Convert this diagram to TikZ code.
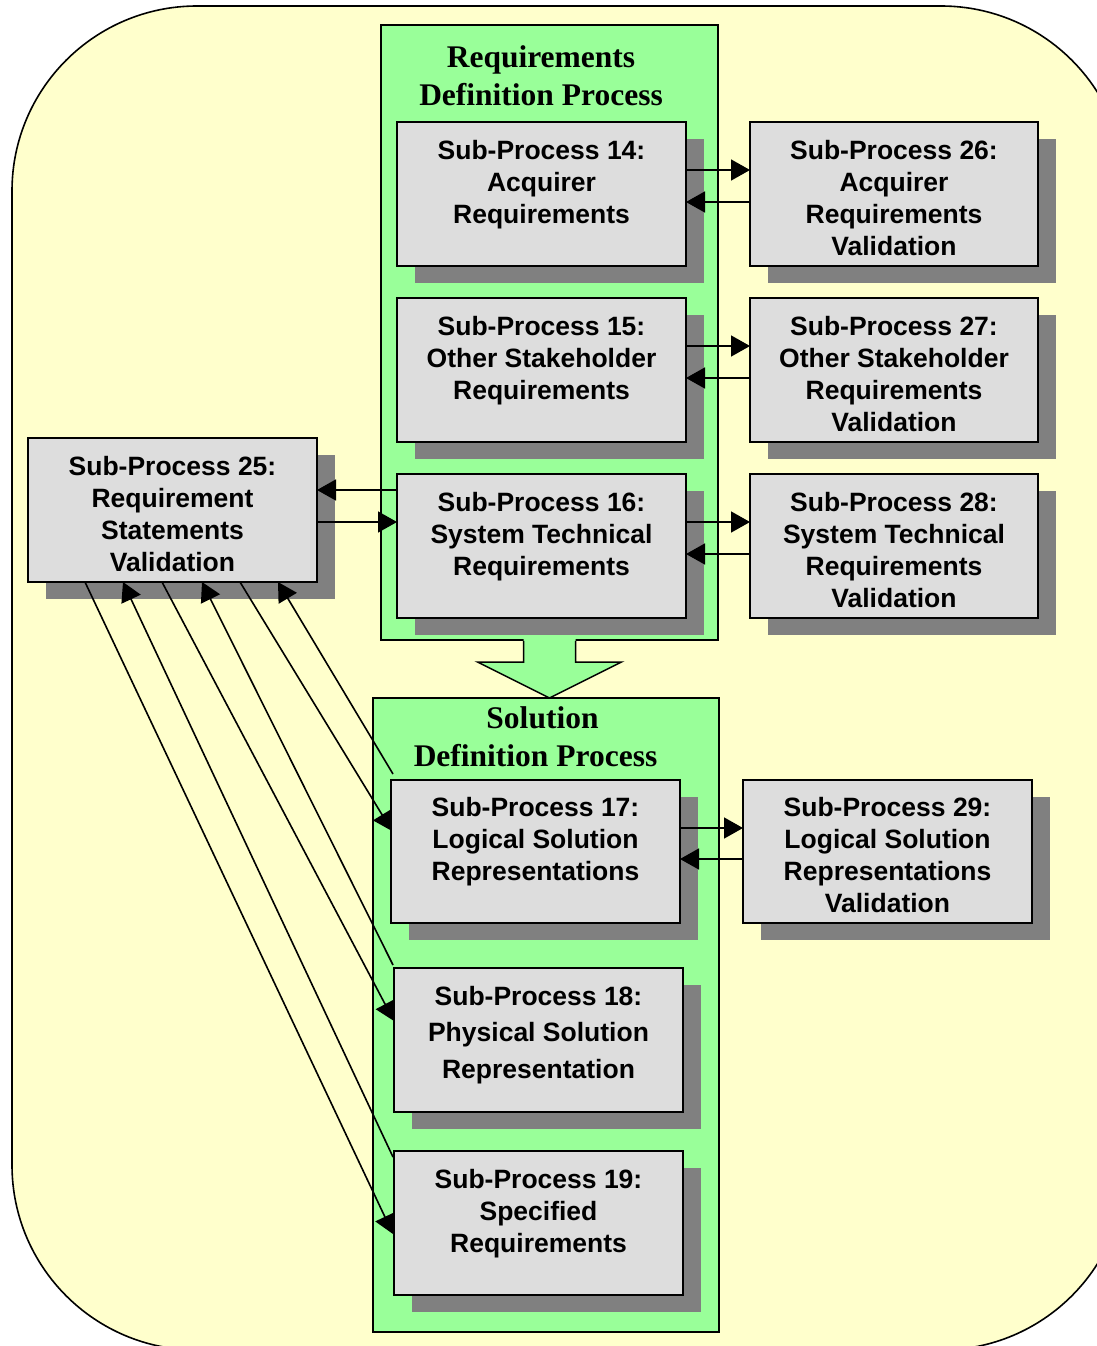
\documentclass[tikz,border=0pt]{standalone}
\usepackage{fontspec}
\setmainfont{Liberation Serif}
\newfontfamily\boxfont{Liberation Sans}
\usetikzlibrary{arrows.meta,calc}
\definecolor{bgyellow}{HTML}{FFFFCC}
\definecolor{greenc}{HTML}{99FF99}
\definecolor{boxgray}{HTML}{DDDDDD}
\definecolor{shadowc}{HTML}{808080}
\pgfdeclarelayer{bgl}
\pgfdeclarelayer{shadowl}
\pgfdeclarelayer{connl}
\pgfsetlayers{bgl,shadowl,connl,main}
\newcommand{\boxtext}[2][32]{\raisebox{35pt}[0pt][0pt]{\fontsize{26.5}{#1}\selectfont\begin{tabular}[t]{@{}c@{}}#2\end{tabular}}}
\tikzset{
  procbox/.style={draw=black, line width=1.8pt, fill=boxgray, minimum width=289pt, minimum height=144pt, inner sep=0pt, outer sep=0pt, font=\boxfont\bfseries},
  container/.style={draw=black, line width=1.5pt, fill=greenc, inner sep=0pt, outer sep=0pt},
  conn/.style={line width=1.6pt, -{Triangle[length=19pt,width=21pt]}},
  titletext/.style={font=\bfseries\fontsize{31.5}{38}\selectfont, inner sep=0pt, anchor=base}
}
\begin{document}
\begin{tikzpicture}[x=1pt,y=-1pt]
\useasboundingbox (0,0) rectangle (1097,1346);
\begin{pgfonlayer}{bgl}
  \draw[line width=1.6pt, fill=bgyellow, rounded corners=185pt] (12,6) rectangle (1126,1350);
  \node[container, minimum width=337pt, minimum height=615pt] (c1) at (549.5,332.5) {};
  \node[container, minimum width=346pt, minimum height=634pt] (c2) at (546,1015) {};
  \fill[greenc] ($(c1.south)+(-26,-2)$) -- ($(c1.south)+(-26,22)$) -- ($(c1.south)+(-72,22)$) -- ($(c1.south)+(0,58)$) -- ($(c1.south)+(72,22)$) -- ($(c1.south)+(26,22)$) -- ($(c1.south)+(26,-2)$) -- cycle;
  \draw[line width=1.5pt, line join=miter] ($(c1.south)+(-26,0.8)$) -- ($(c1.south)+(-26,22)$) -- ($(c1.south)+(-72,22)$) -- ($(c1.south)+(0,58)$) -- ($(c1.south)+(72,22)$) -- ($(c1.south)+(26,22)$) -- ($(c1.south)+(26,0.8)$);
\end{pgfonlayer}

\node[titletext] (t1) at (541,67) {\begin{tabular}[t]{@{}c@{}}Requirements\\Definition Process\end{tabular}};
\node[titletext] (t2) at (535.5,728) {\begin{tabular}[t]{@{}c@{}}\hspace*{14pt}Solution\\Definition Process\end{tabular}};

\node[procbox] (b14) at (541.5,194) {\boxtext{Sub-Process 14:\\Acquirer\\Requirements}};
\node[procbox, minimum width=288pt] (b26) at (894,194) {\boxtext{Sub-Process 26:\\Acquirer\\Requirements\\Validation}};
\node[procbox] (b15) at (541.5,370) {\boxtext{Sub-Process 15:\\Other Stakeholder\\Requirements}};
\node[procbox, minimum width=288pt] (b27) at (894,370) {\boxtext{Sub-Process 27:\\Other Stakeholder\\Requirements\\Validation}};
\node[procbox] (b16) at (541.5,546) {\boxtext{Sub-Process 16:\\System Technical\\Requirements}};
\node[procbox, minimum width=288pt] (b28) at (894,546) {\boxtext{Sub-Process 28:\\System Technical\\Requirements\\Validation}};
\node[procbox] (b25) at (172.5,510) {\boxtext{Sub-Process 25:\\Requirement\\Statements\\Validation}};
\node[procbox, minimum height=143pt] (b17) at (535.5,851.5) {\boxtext{Sub-Process 17:\\Logical Solution\\Representations}};
\node[procbox, minimum height=143pt] (b29) at (887.5,851.5) {\boxtext{Sub-Process 29:\\Logical Solution\\Representations\\Validation}};
\node[procbox] (b18) at (538.5,1040) {\boxtext[36.5]{Sub-Process 18:\\Physical Solution\\Representation}};
\node[procbox] (b19) at (538.5,1223) {\boxtext{Sub-Process 19:\\Specified\\Requirements}};

\begin{pgfonlayer}{shadowl}
  \foreach \b in {b14,b15,b16,b26,b27,b28,b25,b17,b29,b18,b19}
    \fill[shadowc] ($(\b.north west)+(18,17)$) rectangle ($(\b.south east)+(18,17)$);
\end{pgfonlayer}

\begin{pgfonlayer}{connl}
  \coordinate (r14a) at ($(b14.north east)+(0,48)$);
  \coordinate (r14b) at ($(b14.north east)+(0,80)$);
  \coordinate (r15a) at ($(b15.north east)+(0,48)$);
  \coordinate (r15b) at ($(b15.north east)+(0,80)$);
  \coordinate (r16a) at ($(b16.north east)+(0,48)$);
  \coordinate (r16b) at ($(b16.north east)+(0,80)$);
  \coordinate (r17a) at ($(b17.north east)+(0,48)$);
  \coordinate (r17b) at ($(b17.north east)+(0,79)$);
  \draw[conn] (r14a) -- (r14a -| b26.west);
  \draw[conn] (r14b -| b26.west) -- (r14b);
  \draw[conn] (r15a) -- (r15a -| b27.west);
  \draw[conn] (r15b -| b27.west) -- (r15b);
  \draw[conn] (r16a) -- (r16a -| b28.west);
  \draw[conn] (r16b -| b28.west) -- (r16b);
  \draw[conn] (r17a) -- (r17a -| b29.west);
  \draw[conn] (r17b -| b29.west) -- (r17b);
  \coordinate (l16a) at ($(b16.north west)+(0,16)$);
  \coordinate (l16b) at ($(b16.north west)+(0,48)$);
  \draw[conn] (l16a) -- (l16a -| b25.east);
  \draw[conn] (l16b -| b25.east) -- (l16b);
  \coordinate (s1) at ($(b25.south west)+(57,0)$);
  \coordinate (s2) at ($(b25.south west)+(134,0)$);
  \coordinate (s3) at ($(b25.south west)+(212,0)$);
  \coordinate (u1) at ($(b25.south west)+(95,0)$);
  \coordinate (u2) at ($(b25.south west)+(174,0)$);
  \coordinate (u3) at ($(b25.south west)+(250,0)$);
  \draw[conn] (s3) -- ($(b17.north west)+(1,51)$);
  \draw[conn] (s2) -- ($(b18.north west)+(0,53)$);
  \draw[conn] (s1) -- ($(b19.north west)+(-1,83)$);
  \draw[conn] ($(b17.north west)+(2,-6)$) -- (u3);
  \draw[conn] ($(b18.north west)+(-1,-3)$) -- (u2);
  \draw[conn] ($(b19.north west)+(-1,6)$) -- (u1);
\end{pgfonlayer}
\end{tikzpicture}
\end{document}
